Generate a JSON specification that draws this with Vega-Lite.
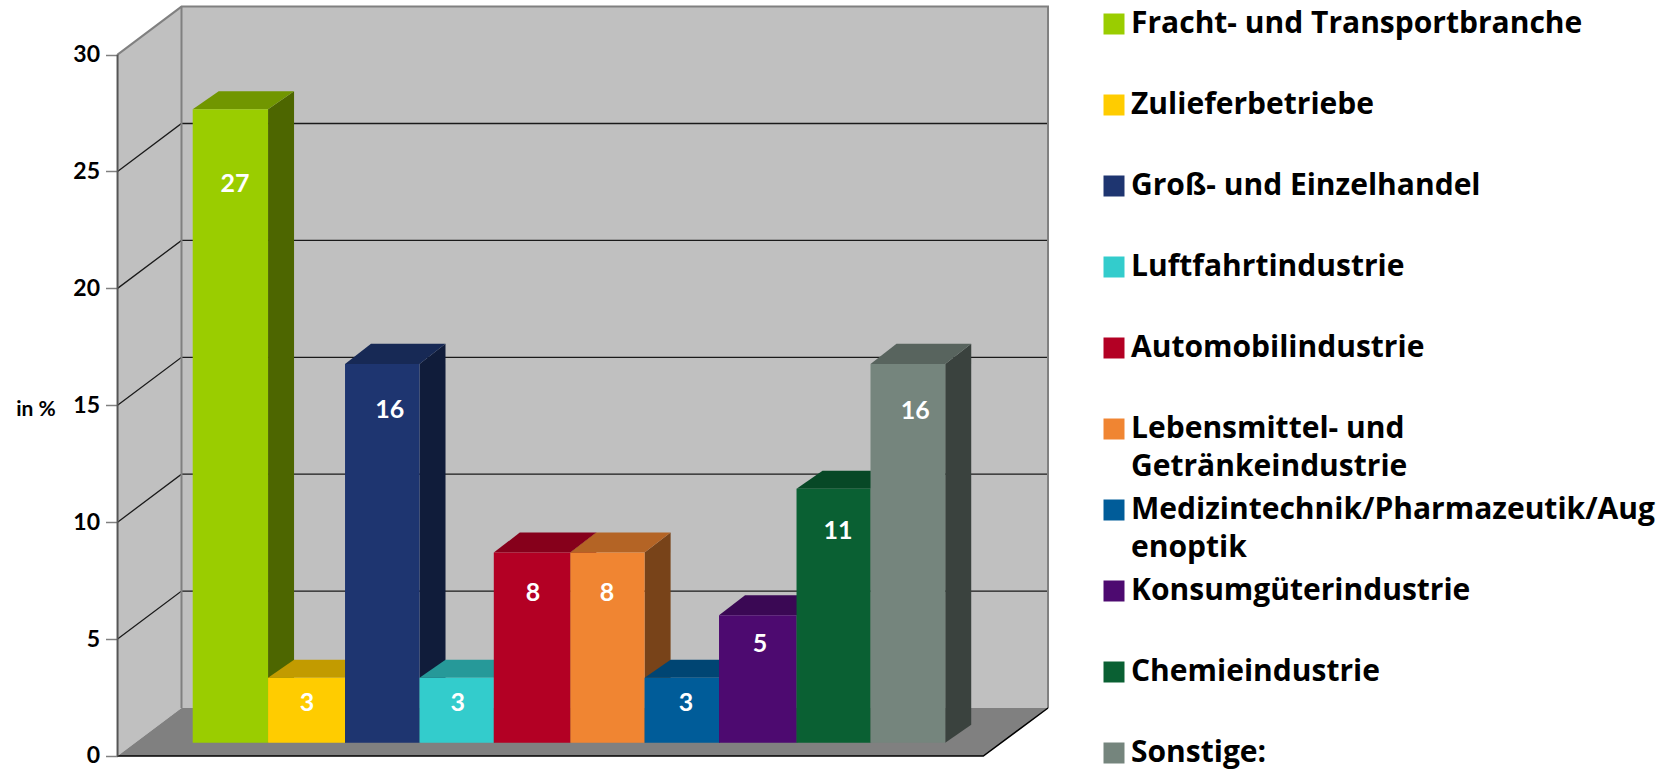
{"$schema":"https://vega.github.io/schema/vega-lite/v6.json","width":1665,"height":774,"padding":0,"autosize":{"type":"none"},"background":"white","view":{"stroke":null},
"config":{"style":{"guide-label":{"lineHeight":38}}},
"datasets":{
"balken":[
{"k":"Fracht- und Transportbranche","n":0,"v":27.09,"a":0,"b":1.001,"lx":0.562,"ly":23.89,"t":"27"},
{"k":"Zulieferbetriebe","n":0,"v":2.78,"a":1.001,"b":2.024,"lx":1.519,"ly":1.70,"t":"3"},
{"k":"Groß- und Einzelhandel","n":0,"v":16.2,"a":2.024,"b":3.014,"lx":2.618,"ly":14.23,"t":"16"},
{"k":"Luftfahrtindustrie","n":0,"v":2.78,"a":3.014,"b":4.001,"lx":3.522,"ly":1.70,"t":"3"},
{"k":"Automobilindustrie","n":0,"v":8.13,"a":4.001,"b":5.018,"lx":4.522,"ly":6.42,"t":"8"},
{"k":"Lebensmittel- und Getränkeindustrie","n":0,"v":8.13,"a":5.018,"b":6.005,"lx":5.506,"ly":6.42,"t":"8"},
{"k":"Medizintechnik/Pharmazeutik/Augenoptik","n":0,"v":2.78,"a":6.005,"b":6.994,"lx":6.556,"ly":1.70,"t":"3"},
{"k":"Konsumgüterindustrie","n":0,"v":5.45,"a":6.994,"b":8.024,"lx":7.539,"ly":4.2,"t":"5"},
{"k":"Chemieindustrie","n":0,"v":10.86,"a":8.024,"b":9.007,"lx":8.575,"ly":9.05,"t":"11"},
{"k":"Sonstige:","n":0,"v":16.2,"a":9.007,"b":10.0,"lx":9.601,"ly":14.2,"t":"16"}],
"seiten":[
{"k":"Fracht- und Transportbranche","x":1.001,"u":0,"o":27.09},{"k":"Fracht- und Transportbranche","x":1.3465,"u":0.77,"o":27.86},
{"k":"Zulieferbetriebe","x":2.024,"u":0,"o":2.78},{"k":"Zulieferbetriebe","x":2.3695,"u":0.77,"o":3.55},
{"k":"Groß- und Einzelhandel","x":3.014,"u":0,"o":16.2},{"k":"Groß- und Einzelhandel","x":3.3595,"u":0.77,"o":17.06},
{"k":"Luftfahrtindustrie","x":4.001,"u":0,"o":2.78},{"k":"Luftfahrtindustrie","x":4.3465,"u":0.77,"o":3.55},
{"k":"Automobilindustrie","x":5.018,"u":0,"o":8.13},{"k":"Automobilindustrie","x":5.3635,"u":0.77,"o":8.99},
{"k":"Lebensmittel- und Getränkeindustrie","x":6.005,"u":0,"o":8.13},{"k":"Lebensmittel- und Getränkeindustrie","x":6.3505,"u":0.77,"o":8.99},
{"k":"Medizintechnik/Pharmazeutik/Augenoptik","x":6.994,"u":0,"o":2.78},{"k":"Medizintechnik/Pharmazeutik/Augenoptik","x":7.3395,"u":0.77,"o":3.55},
{"k":"Konsumgüterindustrie","x":8.024,"u":0,"o":5.45},{"k":"Konsumgüterindustrie","x":8.3695,"u":0.77,"o":6.31},
{"k":"Chemieindustrie","x":9.007,"u":0,"o":10.86},{"k":"Chemieindustrie","x":9.3525,"u":0.77,"o":11.63},
{"k":"Sonstige:","x":10.0,"u":0,"o":16.2},{"k":"Sonstige:","x":10.3455,"u":0.77,"o":17.06}],
"deckel":[
{"k":"Fracht- und Transportbranche","y":27.09,"l":0,"r":1.001},{"k":"Fracht- und Transportbranche","y":27.86,"l":0.3455,"r":1.3465},
{"k":"Zulieferbetriebe","y":2.78,"l":1.001,"r":2.024},{"k":"Zulieferbetriebe","y":3.55,"l":1.3465,"r":2.3695},
{"k":"Groß- und Einzelhandel","y":16.2,"l":2.024,"r":3.014},{"k":"Groß- und Einzelhandel","y":17.06,"l":2.3695,"r":3.3595},
{"k":"Luftfahrtindustrie","y":2.78,"l":3.014,"r":4.001},{"k":"Luftfahrtindustrie","y":3.55,"l":3.3595,"r":4.3465},
{"k":"Automobilindustrie","y":8.13,"l":4.001,"r":5.018},{"k":"Automobilindustrie","y":8.99,"l":4.3465,"r":5.3635},
{"k":"Lebensmittel- und Getränkeindustrie","y":8.13,"l":5.018,"r":6.005},{"k":"Lebensmittel- und Getränkeindustrie","y":8.99,"l":5.3635,"r":6.3505},
{"k":"Medizintechnik/Pharmazeutik/Augenoptik","y":2.78,"l":6.005,"r":6.994},{"k":"Medizintechnik/Pharmazeutik/Augenoptik","y":3.55,"l":6.3505,"r":7.3395},
{"k":"Konsumgüterindustrie","y":5.45,"l":6.994,"r":8.024},{"k":"Konsumgüterindustrie","y":6.31,"l":7.3395,"r":8.3695},
{"k":"Chemieindustrie","y":10.86,"l":8.024,"r":9.007},{"k":"Chemieindustrie","y":11.63,"l":8.3695,"r":9.3525},
{"k":"Sonstige:","y":16.2,"l":9.007,"r":10.0},{"k":"Sonstige:","y":17.06,"l":9.3525,"r":10.3455}],
"gitter":[
{"g":"5","i":0,"x":-0.999,"y":5},{"g":"5","i":1,"x":-0.149,"y":7.053},{"g":"5","i":2,"x":11.366,"y":7.053},
{"g":"10","i":0,"x":-0.999,"y":10},{"g":"10","i":1,"x":-0.149,"y":12.053},{"g":"10","i":2,"x":11.366,"y":12.053},
{"g":"15","i":0,"x":-0.999,"y":15},{"g":"15","i":1,"x":-0.149,"y":17.053},{"g":"15","i":2,"x":11.366,"y":17.053},
{"g":"20","i":0,"x":-0.999,"y":20},{"g":"20","i":1,"x":-0.149,"y":22.053},{"g":"20","i":2,"x":11.366,"y":22.053},
{"g":"25","i":0,"x":-0.999,"y":25},{"g":"25","i":1,"x":-0.149,"y":27.053},{"g":"25","i":2,"x":11.366,"y":27.053}],
"rahmen":[
{"g":"a","i":0,"x":-0.999,"y":30},{"g":"a","i":1,"x":-0.149,"y":32.053},{"g":"a","i":2,"x":11.366,"y":32.053},{"g":"a","i":3,"x":11.366,"y":2.053},
{"g":"b","i":0,"x":-0.149,"y":32.053},{"g":"b","i":1,"x":-0.149,"y":2.053}],
"boden":[
{"g":"f","i":0,"x":-0.999,"y":0},{"g":"f","i":1,"x":10.506,"y":0},{"g":"f","i":2,"x":11.366,"y":2.053}],
"achse":[{"g":"z","i":0,"x":-0.999,"y":0},{"g":"z","i":1,"x":-0.999,"y":30}]
},
"resolve":{"scale":{"y":"independent","color":"independent"}},
"layer":[
{"data":{"values":[{"l":-0.149,"r":11.366,"u":2.053,"o":32.053}]},"mark":{"type":"rect","fill":"#C0C0C0"},
 "encoding":{"x":{"field":"l","type":"quantitative","axis":null,"scale":{"domain":[-2.561,19.565],"nice":false,"zero":false}},"x2":{"field":"r"},
 "y":{"field":"u","type":"quantitative","axis":null,"scale":{"domain":[-0.77,32.335],"nice":false,"zero":false}},"y2":{"field":"o"}}},
{"data":{"values":[{"x":-0.999,"u":0,"o":30},{"x":-0.149,"u":2.053,"o":32.053}]},"mark":{"type":"area","fill":"#C0C0C0"},
 "encoding":{"x":{"field":"x","type":"quantitative"},"y":{"field":"u","type":"quantitative","axis":null,"scale":{"domain":[-0.77,32.335],"nice":false,"zero":false}},"y2":{"field":"o"}}},
{"data":{"values":[{"y":0,"l":-0.999,"r":10.506},{"y":2.053,"l":-0.149,"r":11.366}]},"mark":{"type":"area","orient":"horizontal","fill":"#808080"},
 "encoding":{"y":{"field":"y","type":"quantitative","axis":null,"scale":{"domain":[-0.77,32.335],"nice":false,"zero":false}},"x":{"field":"l","type":"quantitative"},"x2":{"field":"r"}}},
{"data":{"name":"gitter"},"mark":{"type":"line","color":"#1a1a1a","strokeWidth":1.3},
 "encoding":{"x":{"field":"x","type":"quantitative"},"y":{"field":"y","type":"quantitative","axis":null,"scale":{"domain":[-0.77,32.335],"nice":false,"zero":false}},"detail":{"field":"g","type":"nominal"},"order":{"field":"i","type":"quantitative"}}},
{"data":{"name":"rahmen"},"mark":{"type":"line","color":"#808080","strokeWidth":2},
 "encoding":{"x":{"field":"x","type":"quantitative"},"y":{"field":"y","type":"quantitative","axis":null,"scale":{"domain":[-0.77,32.335],"nice":false,"zero":false}},"detail":{"field":"g","type":"nominal"},"order":{"field":"i","type":"quantitative"}}},
{"data":{"name":"boden"},"mark":{"type":"line","color":"#000000","strokeWidth":1.5},
 "encoding":{"x":{"field":"x","type":"quantitative"},"y":{"field":"y","type":"quantitative","axis":null,"scale":{"domain":[-0.77,32.335],"nice":false,"zero":false}},"detail":{"field":"g","type":"nominal"},"order":{"field":"i","type":"quantitative"}}},
{"data":{"name":"achse"},"mark":{"type":"line","color":"#555555","strokeWidth":2},
 "encoding":{"x":{"field":"x","type":"quantitative"},"y":{"field":"y","type":"quantitative","scale":{"domain":[-0.77,32.335],"nice":false,"zero":false},
   "axis":{"values":[0,5,10,15,20,25,30],"offset":-117.5,"domain":false,"grid":false,"ticks":true,"tickSize":12,"tickColor":"#808080","tickWidth":1.5,"labelPadding":6,"labelFont":"Lato","labelFontWeight":"bold","labelFontSize":23,"labelColor":"#000000","title":"in %","titleFont":"Lato","titleFontWeight":"bold","titleFontSize":21,"titleColor":"#000000","titleAngle":0,"titleX":-82,"titleY":409,"titleAlign":"center","titleBaseline":"middle"}},"detail":{"field":"g","type":"nominal"},"order":{"field":"i","type":"quantitative"}}},
{"data":{"name":"seiten"},"mark":{"type":"area"},
 "encoding":{"x":{"field":"x","type":"quantitative"},"y":{"field":"u","type":"quantitative","axis":null,"scale":{"domain":[-1.339,31.766],"nice":false,"zero":false}},"y2":{"field":"o"},
 "color":{"field":"k","type":"nominal","legend":null,"sort":null,"scale":{"domain":["Fracht- und Transportbranche","Zulieferbetriebe","Groß- und Einzelhandel","Luftfahrtindustrie","Automobilindustrie","Lebensmittel- und Getränkeindustrie","Medizintechnik/Pharmazeutik/Augenoptik","Konsumgüterindustrie","Chemieindustrie","Sonstige:"],"range":["#4D6600","#806600","#101C3A","#1A6666","#5A0012","#784319","#002E4D","#270538","#053019","#3A423E"]}}}},
{"data":{"name":"deckel"},"mark":{"type":"area","orient":"horizontal"},
 "encoding":{"y":{"field":"y","type":"quantitative","axis":null,"scale":{"domain":[-1.339,31.766],"nice":false,"zero":false}},"x":{"field":"l","type":"quantitative"},"x2":{"field":"r"},
 "color":{"field":"k","type":"nominal","legend":null,"sort":null,"scale":{"domain":["Fracht- und Transportbranche","Zulieferbetriebe","Groß- und Einzelhandel","Luftfahrtindustrie","Automobilindustrie","Lebensmittel- und Getränkeindustrie","Medizintechnik/Pharmazeutik/Augenoptik","Konsumgüterindustrie","Chemieindustrie","Sonstige:"],"range":["#719600","#C29B00","#172955","#269999","#86001B","#B46425","#004573","#3A0854","#074826","#58645E"]}}}},
{"data":{"name":"balken"},"mark":{"type":"rect"},
 "encoding":{"x":{"field":"a","type":"quantitative"},"x2":{"field":"b"},
 "y":{"field":"n","type":"quantitative","axis":null,"scale":{"domain":[-1.339,31.766],"nice":false,"zero":false}},"y2":{"field":"v"},
 "color":{"field":"k","type":"nominal","sort":null,"scale":{"domain":["Fracht- und Transportbranche","Zulieferbetriebe","Groß- und Einzelhandel","Luftfahrtindustrie","Automobilindustrie","Lebensmittel- und Getränkeindustrie","Medizintechnik/Pharmazeutik/Augenoptik","Konsumgüterindustrie","Chemieindustrie","Sonstige:"],"range":["#9ACD00","#FFCC00","#1E3570","#33CCCC","#B30024","#F08532","#005C99","#4D0A70","#0A6033","#75857D"]},
  "legend":{"title":null,"orient":"none","legendX":1099,"legendY":9,"padding":0,"symbolType":"square","symbolSize":441,"symbolStrokeWidth":0,"symbolOpacity":1,"labelFont":"Open Sans","labelFontWeight":"bold","labelFontSize":30,"labelColor":"#000000","labelLimit":600,"labelOffset":2,"gridAlign":"all","rowPadding":13,
   "labelExpr":"datum.label == 'Lebensmittel- und Getränkeindustrie' ? ['Lebensmittel- und','Getränkeindustrie'] : datum.label == 'Medizintechnik/Pharmazeutik/Augenoptik' ? ['Medizintechnik/Pharmazeutik/Aug','enoptik'] : datum.label"}}}},
{"data":{"name":"balken"},"mark":{"type":"text","color":"white","font":"Lato","fontWeight":"bold","fontSize":25,"baseline":"middle"},
 "encoding":{"x":{"field":"lx","type":"quantitative"},"y":{"field":"ly","type":"quantitative","axis":null,"scale":{"domain":[-1.339,31.766],"nice":false,"zero":false}},"text":{"field":"t","type":"nominal"}}}
]}
